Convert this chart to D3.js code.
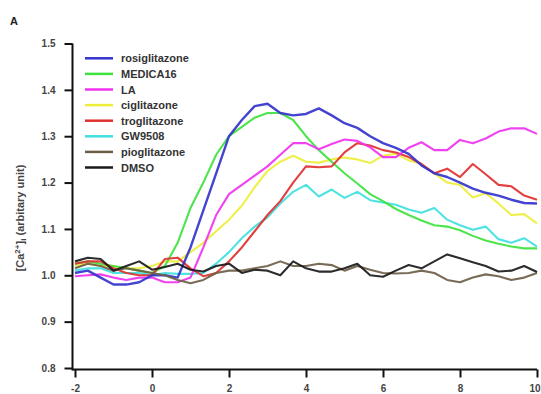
<!DOCTYPE html>
<html><head><meta charset="utf-8">
<script src="https://cdn.jsdelivr.net/npm/d3@7"></script>
<style>body{margin:0;background:#fff}svg{display:block}</style>
</head><body>
<svg id="c" width="541" height="394"></svg>
<script>
// time points (min), 20 s sampling from -2 to 10
const times = d3.range(37).map(i => -2 + i / 3);
const xTicks = [-2, 0, 2, 4, 6, 8, 10];
const yTicks = [0.8, 0.9, 1.0, 1.1, 1.2, 1.3, 1.4, 1.5];
const seriesNames = ["rosiglitazone","MEDICA16","LA","ciglitazone","troglitazone","GW9508","pioglitazone","DMSO"];
const seriesColors = ["#3434cc","#3ee23e","#f032f0","#eeee3a","#e03030","#40e0e0","#6e5e48","#1a1a1a"];

const rosiglitazone = [1.005,1.01,0.995,0.98,0.98,0.985,1.0,1.0,0.995,1.06,1.14,1.22,1.30,1.335,1.365,1.37,1.35,1.345,1.348,1.36,1.345,1.328,1.318,1.30,1.285,1.275,1.262,1.237,1.22,1.212,1.2,1.187,1.178,1.172,1.163,1.156,1.155];
const medica16 = [1.025,1.03,1.025,1.02,1.015,1.01,1.005,1.02,1.07,1.145,1.20,1.26,1.30,1.32,1.34,1.35,1.35,1.335,1.3,1.27,1.245,1.22,1.198,1.175,1.16,1.143,1.13,1.118,1.108,1.105,1.097,1.085,1.075,1.068,1.062,1.058,1.058];
const la = [0.998,1.0,1.002,0.995,0.99,0.995,0.995,0.985,0.985,0.995,1.06,1.13,1.175,1.195,1.215,1.235,1.26,1.285,1.285,1.272,1.283,1.293,1.29,1.276,1.255,1.255,1.275,1.287,1.27,1.27,1.292,1.285,1.295,1.31,1.317,1.317,1.305];
const ciglitazone = [1.02,1.025,1.02,1.02,1.015,1.015,1.02,1.03,1.03,1.05,1.07,1.095,1.12,1.15,1.19,1.225,1.245,1.258,1.245,1.243,1.25,1.254,1.25,1.242,1.258,1.262,1.248,1.24,1.22,1.2,1.195,1.168,1.177,1.155,1.13,1.132,1.112];
const troglitazone = [1.025,1.03,1.03,1.015,1.005,1.0,1.0,1.035,1.038,1.015,0.998,1.005,1.03,1.06,1.095,1.13,1.16,1.2,1.235,1.233,1.235,1.265,1.285,1.28,1.27,1.265,1.255,1.24,1.22,1.23,1.212,1.24,1.218,1.195,1.192,1.172,1.163];
const gw9508 = [1.01,1.015,1.015,1.005,1.005,1.005,1.0,1.005,1.003,1.003,1.005,1.025,1.05,1.08,1.105,1.125,1.155,1.18,1.195,1.17,1.185,1.167,1.18,1.162,1.157,1.152,1.142,1.135,1.145,1.12,1.108,1.098,1.105,1.078,1.07,1.08,1.062];
const pioglitazone = [1.015,1.025,1.02,1.01,1.015,1.01,1.005,1.0,0.99,0.983,0.99,1.005,1.01,1.01,1.015,1.02,1.03,1.02,1.02,1.025,1.022,1.01,1.02,1.012,1.005,1.004,1.005,1.01,1.005,0.99,0.985,0.995,1.002,0.998,0.99,0.995,1.005];
const dmso = [1.03,1.038,1.035,1.01,1.02,1.03,1.012,1.018,1.025,1.012,1.008,1.02,1.025,1.005,1.012,1.01,1.0,1.03,1.015,1.008,1.008,1.015,1.025,1.0,0.997,1.01,1.022,1.015,1.03,1.045,1.037,1.028,1.02,1.008,1.01,1.02,1.007];

const seriesValues = [rosiglitazone, medica16, la, ciglitazone, troglitazone, gw9508, pioglitazone, dmso];
const drawOrder = [3,5,1,4,2,0,6,7];

const svg = d3.select("#c");
const x = d3.scaleLinear().domain([-2, 10]).range([75, 537]);
const y = d3.scaleLinear().domain([0.8, 1.5]).range([368, 43.5]);
const font = "'Liberation Sans', Arial, Helvetica, sans-serif";

// panel letter
svg.append("text").attr("x", 10).attr("y", 25).text("A")
  .attr("font-family", font).attr("font-weight", "bold").attr("font-size", 11).attr("fill", "#222");

// lines
const line = d3.line().x((d, i) => x(times[i])).y(d => y(d)).curve(d3.curveLinear);
const g = svg.append("g");
drawOrder.forEach(k => {
  g.append("path").datum(seriesValues[k]).attr("d", line)
    .attr("fill", "none").attr("stroke", seriesColors[k])
    .attr("stroke-width", k === 0 ? 2.4 : 2.1).attr("stroke-linejoin", "round").attr("stroke-opacity", 0.92);
});

// axes
const yAxis = svg.append("g").attr("transform", "translate(72.5,0)")
  .call(d3.axisLeft(y).tickValues(yTicks).tickFormat(d3.format(".1f")).tickSize(8).tickPadding(9));
const xAxis = svg.append("g").attr("transform", "translate(0,369.5)")
  .call(d3.axisBottom(x).tickValues(xTicks).tickFormat(d => String(d)).tickSize(8).tickPadding(7));
[yAxis, xAxis].forEach(ax => {
  ax.select(".domain").attr("stroke", "#111").attr("stroke-width", 2);
  ax.selectAll(".tick line").attr("stroke", "#111").attr("stroke-width", 2);
  ax.selectAll(".tick text").attr("font-family", font).attr("font-size", 10)
    .attr("font-weight", "bold").attr("fill", "#444");
});
xAxis.selectAll(".tick text").filter(d => d === 10).attr("text-anchor", "end").attr("dx", 3);
yAxis.select(".domain").attr("d", "M-0,43.5V370.5");
xAxis.select(".domain").attr("d", "M72.5,0H537");

// y title
const yt = svg.append("text").attr("transform", "translate(24,218) rotate(-90)")
  .attr("text-anchor", "middle").attr("font-family", font).attr("font-size", 11)
  .attr("font-weight", "bold").attr("fill", "#444");
yt.append("tspan").text("[Ca");
yt.append("tspan").text("2+").attr("font-size", 8).attr("dy", -4);
yt.append("tspan").text("]").attr("dy", 4);
yt.append("tspan").text("i").attr("font-size", 8).attr("dy", 2);
yt.append("tspan").text(" (arbitary unit)").attr("dy", -2);

// legend
const lg = svg.append("g");
seriesNames.forEach((n, k) => {
  const yy = 58.3 + k * 15.6;
  lg.append("line").attr("x1", 85).attr("x2", 113).attr("y1", yy).attr("y2", yy)
    .attr("stroke", seriesColors[k]).attr("stroke-width", 2.5);
  lg.append("text").attr("x", 121).attr("y", yy + 4).text(n)
    .attr("font-family", font).attr("font-size", 11).attr("font-weight", "bold").attr("fill", "#333");
});
</script>
</body></html>
